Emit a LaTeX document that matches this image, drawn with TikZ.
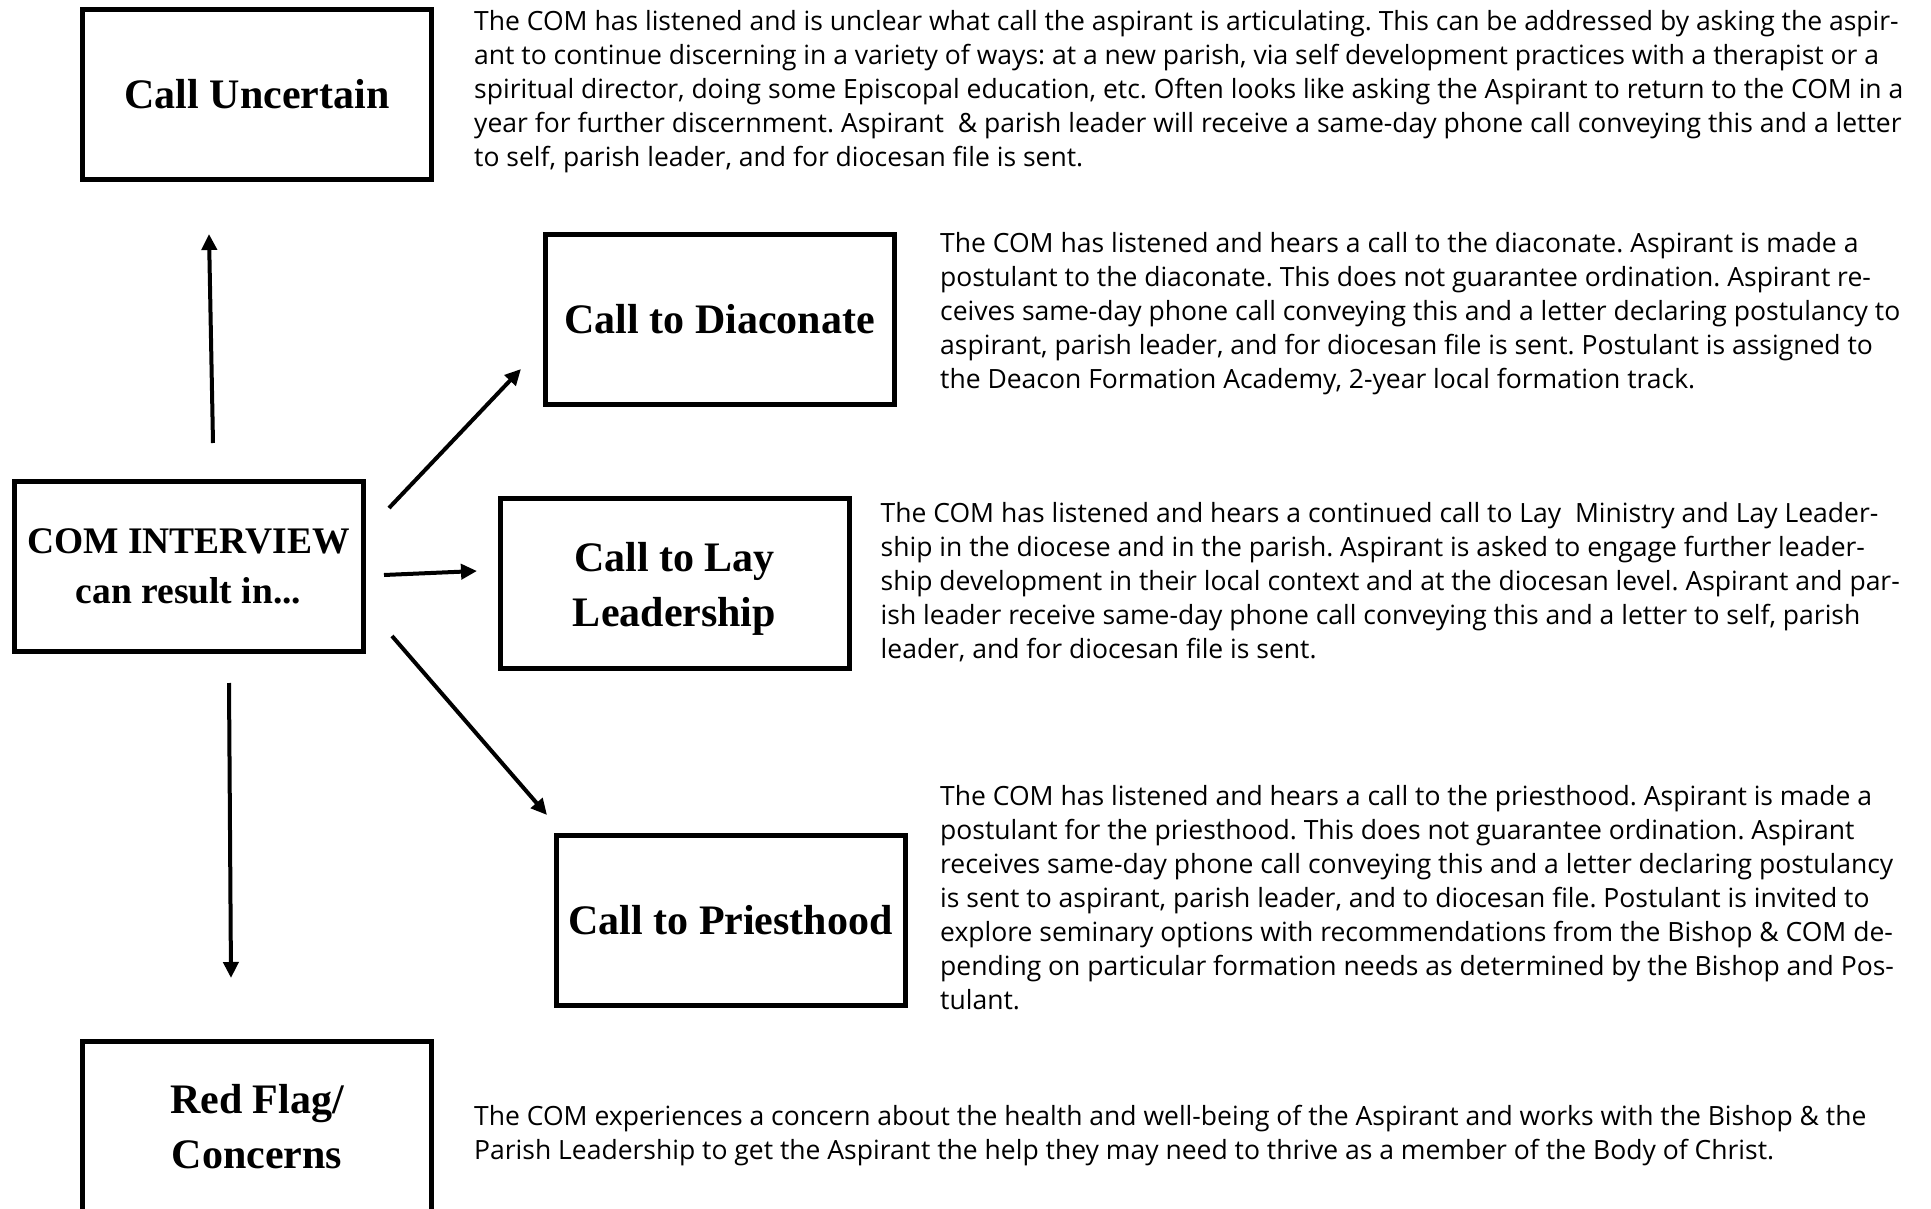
\documentclass[tikz,border=0pt]{standalone}
\usepackage{fontspec}
\setmainfont{Open Sans}
\newfontfamily\labelfont{Liberation Serif}
\usetikzlibrary{arrows.meta}
\frenchspacing

\begin{document}
\begin{tikzpicture}[x=1pt, y=-1pt,
  box/.style={draw, line width=5pt, minimum width=349pt, minimum height=170pt, inner sep=0pt,
    align=center, font=\labelfont\bfseries\fontsize{42}{55}\selectfont},
  desc/.style={anchor=north west, align=left, inner sep=0pt, font=\fontsize{26.5}{34}\selectfont},
  link/.style={line width=4pt, -{Triangle[length=16pt, width=15pt]}}]
\useasboundingbox (0,0) rectangle (1931,1209);

% boxes
\node[box] (uncertain) at (257,94.5) {Call Uncertain};
\node[box] (diaconate) at (719.5,319.5) {Call to Diaconate};
\node[box, font=\labelfont\bfseries\fontsize{37.5}{50}\selectfont] (interview) at (188.5,566) {COM INTERVIEW\\can result in...};
\node[box] (lay) at (674.5,583.5) {\rule{0pt}{39pt}Call to Lay\\Leadership};
\node[box] (priest) at (730.5,920) {Call to Priesthood};
\node[box] (redflag) at (257,1126.5) {Red Flag/\\Concerns};

% descriptions
\node[desc] (uncertain-txt) at (474,10) {The COM has listened and is unclear what call the aspirant is articulating. This can be addressed by asking the aspir-\\
ant to continue discerning in a variety of ways: at a new parish, via self development practices with a therapist or a\\
spiritual director, doing some Episcopal education, etc. Often looks like asking the Aspirant to return to the COM in a\\
year for further discernment. Aspirant\ \ \& parish leader will receive a same-day phone call conveying this and a letter\\
to self, parish leader, and for diocesan file is sent.};
\node[desc] (diaconate-txt) at (940,232.5) {The COM has listened and hears a call to the diaconate. Aspirant is made a\\
postulant to the diaconate. This does not guarantee ordination. Aspirant re-\\
ceives same-day phone call conveying this and a letter declaring postulancy to\\
aspirant, parish leader, and for diocesan file is sent. Postulant is assigned to\\
the Deacon Formation Academy, 2-year local formation track.};
\node[desc] (lay-txt) at (880.5,502.5) {The COM has listened and hears a continued call to Lay\ \ Ministry and Lay Leader-\\
ship in the diocese and in the parish. Aspirant is asked to engage further leader-\\
ship development in their local context and at the diocesan level. Aspirant and par-\\
ish leader receive same-day phone call conveying this and a letter to self, parish\\
leader, and for diocesan file is sent.};
\node[desc] (priest-txt) at (940,785.5) {The COM has listened and hears a call to the priesthood. Aspirant is made a\\
postulant for the priesthood. This does not guarantee ordination. Aspirant\\
receives same-day phone call conveying this and a letter declaring postulancy\\
is sent to aspirant, parish leader, and to diocesan file. Postulant is invited to\\
explore seminary options with recommendations from the Bishop \& COM de-\\
pending on particular formation needs as determined by the Bishop and Pos-\\
tulant.};
\node[desc] (redflag-txt) at (474,1105) {The COM experiences a concern about the health and well-being of the Aspirant and works with the Bishop \& the\\
Parish Leadership to get the Aspirant the help they may need to thrive as a member of the Body of Christ.};

% arrow ends
\coordinate (up-from) at (213,443);
\coordinate (up-to) at (209,234);
\coordinate (diac-from) at (389,508);
\coordinate (diac-to) at (521,369);
\coordinate (lay-from) at (384,575);
\coordinate (lay-to) at (477,571);
\coordinate (priest-from) at (392,636);
\coordinate (priest-to) at (547,815);
\coordinate (down-from) at (229,683);
\coordinate (down-to) at (231,978);

\draw[link] (up-from) -- (up-to);
\draw[link] (diac-from) -- (diac-to);
\draw[link] (lay-from) -- (lay-to);
\draw[link] (priest-from) -- (priest-to);
\draw[link] (down-from) -- (down-to);
\end{tikzpicture}
\end{document}
